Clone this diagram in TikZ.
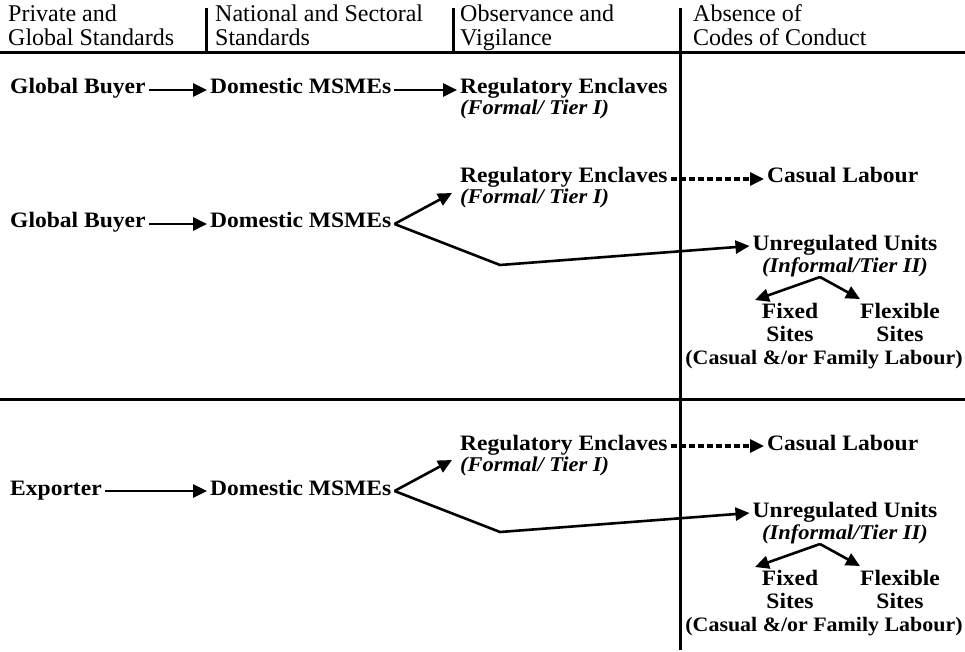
\documentclass[tikz,border=0pt]{standalone}
\usepackage{fontspec}
\setmainfont{Liberation Serif}
\newfontfamily\widefont[FakeStretch=1.07]{Liberation Serif}
\usetikzlibrary{arrows.meta,positioning}

\tikzset{
    lbl/.style={font=\widefont\fontsize{22}{23}\selectfont\bfseries, inner sep=3pt,
        text height=0.8em, text depth=0em},
    sub/.style={font=\widefont\fontsize{21}{22}\selectfont\bfseries\itshape, inner sep=3pt},
    hdr/.style={font=\fontsize{24}{24}\selectfont, anchor=base west, inner sep=0pt},
    arr/.style={line width=2.6pt, -{Triangle[length=14pt,width=13pt]}},
    dsh/.style={line width=3.2pt, dash pattern=on 6pt off 3pt, -{Triangle[length=14pt,width=13pt]}},
    rule/.style={line width=3pt}
}

\begin{document}
\begin{tikzpicture}[x=1pt, y=-1pt]
    \useasboundingbox (0,0) rectangle (965,652);
    % header
    \node[hdr] (h1a) at (8,22) {Private and};
    \node[hdr] (h1b) at (8,46) {Global Standards};
    \node[hdr] (h2a) at (215,22) {National and Sectoral};
    \node[hdr] (h2b) at (215,46) {Standards};
    \node[hdr] (h3a) at (460,22) {Observance and};
    \node[hdr] (h3b) at (460,46) {Vigilance};
    \node[hdr] (h4a) at (693,22) {Absence of};
    \node[hdr] (h4b) at (693,46) {Codes of Conduct};
    \draw[rule] (0,53) -- (965,53);
    \draw[rule] (206,8) -- (206,52);
    \draw[rule] (453,8) -- (453,52);
    \draw[rule] (680,8) -- (680,650);
    \draw[rule] (0,399) -- (965,399);

    % row 1
    \node[lbl, anchor=base west] (gb1) at (7,94) {Global Buyer};
    \node[lbl, anchor=base west] (dm1) at (207,94) {Domestic MSMEs};
    \node[lbl, anchor=base west] (re1) at (457,94) {Regulatory Enclaves};
    \node[sub, anchor=base west] (fo1) at (457,115) {(Formal/ Tier I)};
    \draw[arr] (gb1.east) -- (dm1.west);
    \draw[arr] (dm1.east) -- (re1.west);

    % rows 2 and 3
    \foreach \r/\dy/\src in {2/0/Global Buyer, 3/267/Exporter} {
        \begin{scope}[shift={(0,\dy)}]
            \node[lbl, anchor=base west] (re\r) at (457,183) {Regulatory Enclaves};
            \node[sub, anchor=base west] (fo\r) at (457,204) {(Formal/ Tier I)};
            \node[lbl, anchor=base west] (cl\r) at (764,183) {Casual Labour};
            \node[lbl, anchor=base west] (gb\r) at (7,228) {\src};
            \node[lbl, anchor=base west] (dm\r) at (207,228) {Domestic MSMEs};
            \node[lbl, anchor=base] (uu\r) at (845,250) {Unregulated Units};
            \node[sub, anchor=base] (in\r) at (845,272) {(Informal/Tier II)};
            \node[lbl, anchor=base] (fx\r) at (790,318) {Fixed};
            \node[lbl, anchor=base] (fs\r) at (790,341) {Sites};
            \node[lbl, anchor=base] (fl\r) at (900,318) {Flexible};
            \node[lbl, anchor=base] (ls\r) at (900,341) {Sites};
            \node[lbl, anchor=base, font=\widefont\fontsize{20.5}{22}\selectfont\bfseries] (cf\r) at (824,364) {(Casual \&/or Family Labour)};
            \coordinate (up\r) at (452,193);
            \coordinate (kn\r) at (500,265);
            \coordinate (sp\r) at (820,277);
            \coordinate (lt\r) at (755,300);
            \coordinate (rt\r) at (860,299);
        \end{scope}
        \draw[arr] (gb\r.east) -- (dm\r.west);
        \draw[arr] (dm\r.east) -- (up\r);
        \draw[arr] (dm\r.east) -- (kn\r) -- (uu\r.west);
        \draw[dsh] (re\r.east) -- (cl\r.west);
        \draw[arr] (sp\r) -- (lt\r);
        \draw[arr] (sp\r) -- (rt\r);
    }
\end{tikzpicture}
\end{document}
